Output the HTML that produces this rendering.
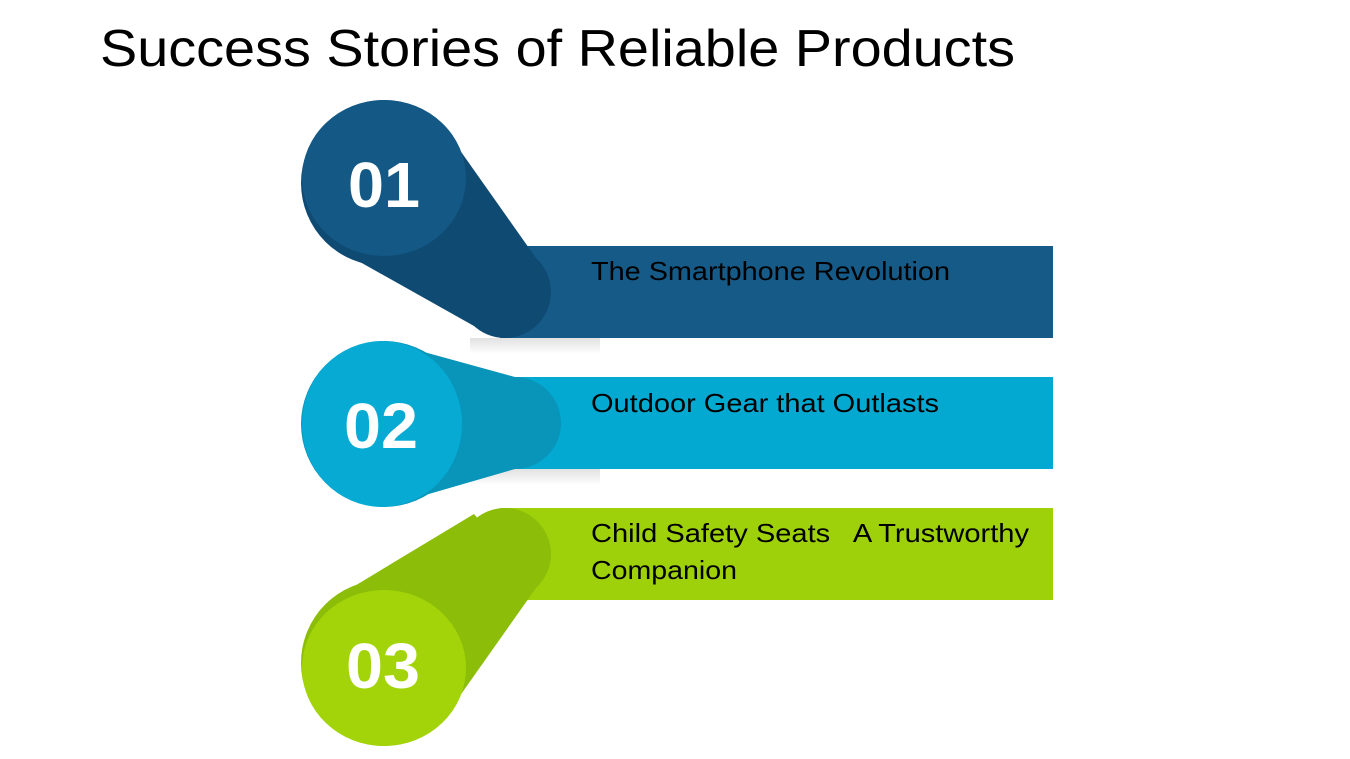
<!DOCTYPE html>
<html><head><meta charset="utf-8"><style>
html,body{margin:0;padding:0;background:#fff;}
svg{display:block}
</style></head><body>
<svg width="1350" height="759" viewBox="0 0 1350 759" xmlns="http://www.w3.org/2000/svg">
<defs>
<linearGradient id="sh" x1="0" y1="0" x2="0" y2="1"><stop offset="0" stop-color="#000" stop-opacity="0.12"/><stop offset="1" stop-color="#000" stop-opacity="0"/></linearGradient>
</defs>
<text x="100" y="66" font-family="Liberation Sans, sans-serif" font-size="52" textLength="915" lengthAdjust="spacingAndGlyphs" fill="#000">Success Stories of Reliable Products</text>

<rect x="500" y="246" width="553" height="92" fill="#165a88"/>
<rect x="500" y="377" width="553" height="92" fill="#04a9d1"/>
<rect x="500" y="508" width="553" height="92" fill="#9fd10b"/>
<rect x="470" y="338" width="130" height="16" fill="url(#sh)"/>
<rect x="470" y="469" width="130" height="16" fill="url(#sh)"/>

<g>
<circle cx="384" cy="183" r="83" fill="#0f4a73"/>
<circle cx="505" cy="292" r="46" fill="#0f4a73"/>
<polygon points="440,122 536,258 474,326 328,244" fill="#0f4a73"/>
<ellipse cx="384" cy="178" rx="82" ry="78" fill="#145886"/>
<text x="384" y="207" text-anchor="middle" font-family="Liberation Sans, sans-serif" font-weight="bold" font-size="64" textLength="72" lengthAdjust="spacingAndGlyphs" fill="#fff">01</text>
</g>

<g>
<circle cx="384" cy="424" r="83" fill="#0995ba"/>
<circle cx="515" cy="423" r="46" fill="#0995ba"/>
<polygon points="384,341 515,377 515,469 384,507" fill="#0995ba"/>
<ellipse cx="382" cy="424" rx="80" ry="83" fill="#06aad3"/>
<text x="381" y="448" text-anchor="middle" font-family="Liberation Sans, sans-serif" font-weight="bold" font-size="64" textLength="74" lengthAdjust="spacingAndGlyphs" fill="#fff">02</text>
</g>

<g>
<circle cx="384" cy="663" r="83" fill="#8cbd08"/>
<circle cx="505" cy="554" r="46" fill="#8cbd08"/>
<polygon points="328,602 474,514 536,588 440,724" fill="#8cbd08"/>
<ellipse cx="384" cy="668" rx="82" ry="78" fill="#a3d40a"/>
<text x="383" y="688" text-anchor="middle" font-family="Liberation Sans, sans-serif" font-weight="bold" font-size="64" textLength="74" lengthAdjust="spacingAndGlyphs" fill="#fff">03</text>
</g>

<text x="591" y="280" font-family="Liberation Sans, sans-serif" font-size="26" textLength="359" lengthAdjust="spacingAndGlyphs" fill="#000">The Smartphone Revolution</text>
<text x="591" y="412" font-family="Liberation Sans, sans-serif" font-size="26" textLength="348" lengthAdjust="spacingAndGlyphs" fill="#000">Outdoor Gear that Outlasts</text>
<text x="591" y="542" font-family="Liberation Sans, sans-serif" font-size="26" textLength="438" lengthAdjust="spacingAndGlyphs" fill="#000" xml:space="preserve">Child Safety Seats   A Trustworthy</text>
<text x="591" y="579" font-family="Liberation Sans, sans-serif" font-size="26" textLength="146" lengthAdjust="spacingAndGlyphs" fill="#000">Companion</text>
</svg>
</body></html>
